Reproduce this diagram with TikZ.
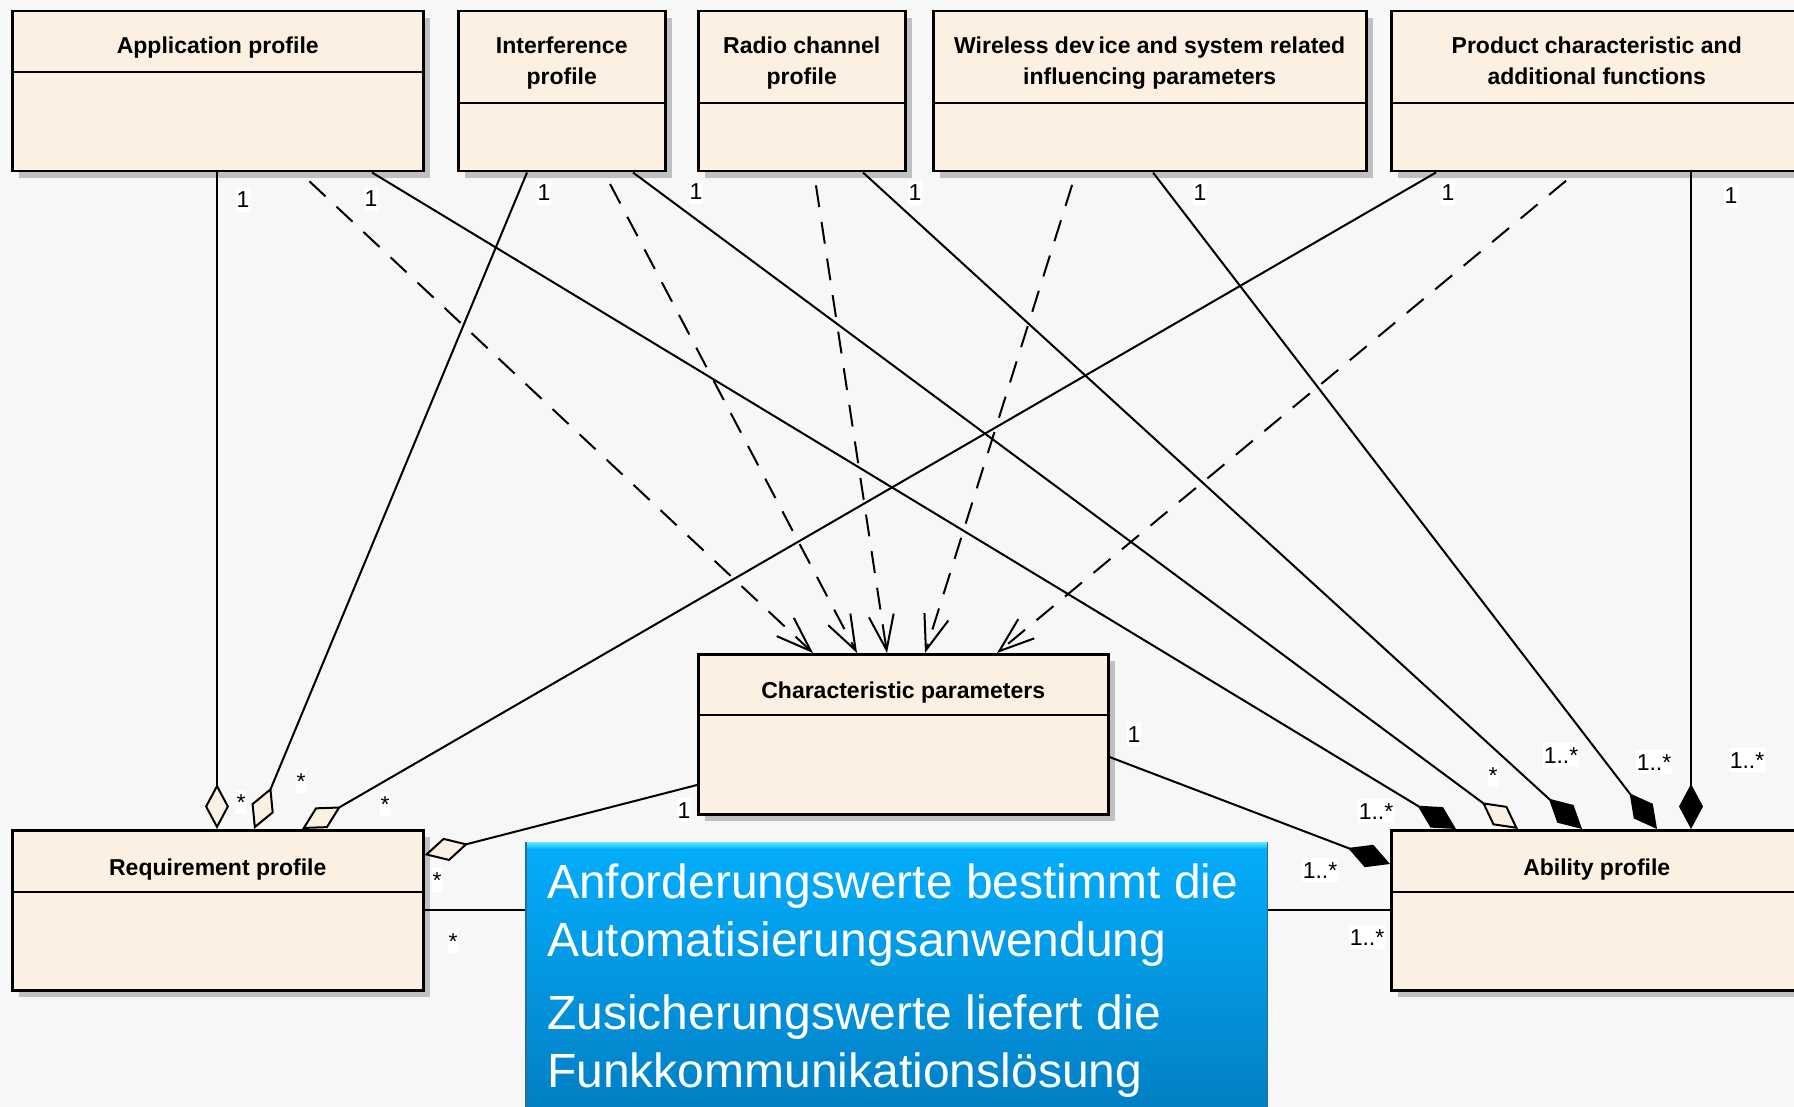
\documentclass[tikz,border=0pt]{standalone}
\usepackage{fontspec}
\setmainfont{Liberation Sans}
\usetikzlibrary{arrows.meta,shadows}

\definecolor{bg}{HTML}{F7F7F7}
\definecolor{classfill}{HTML}{FBF0E2}
\definecolor{shade}{HTML}{C0C0C0}
\definecolor{notetop}{HTML}{04AEFC}
\definecolor{notebot}{HTML}{027BBF}
\definecolor{bevel}{HTML}{62E8FF}
\definecolor{noteedge}{HTML}{2A6E96}

\tikzset{
  cls/.style={draw=black, line width=2.5pt, fill=classfill, inner sep=0pt,
    anchor=north west, minimum height=160pt,
    drop shadow={shadow xshift=7pt, shadow yshift=-7pt, fill=shade, opacity=1}},
  ttl/.style={anchor=north, align=center, inner sep=0pt,
    font=\fontsize{23}{31}\selectfont\bfseries},
  mult/.style={fill=white, inner xsep=1pt, inner ysep=0pt,
    text height=20pt, text depth=4pt, font=\fontsize{23}{28}\selectfont},
  assoc/.style={line width=2pt},
  dep/.style={line width=2pt, dash pattern=on 22pt off 15pt, dash phase=24pt,
    -{Straight Barb[length=35pt,width=25pt]}},
  agg/.style={assoc, -{Diamond[length=45pt,width=24pt,fill=classfill]}},
  comp/.style={assoc, -{Diamond[length=45pt,width=24pt]}},
  sep/.style={line width=2.5pt}
}

\newcommand{\tstrut}{\rule{0pt}{17pt}}

\begin{document}
\begin{tikzpicture}[x=1pt,y=-1pt]
  \useasboundingbox (0,0) rectangle (1794,1107);
  \clip (0,0) rectangle (1794,1107);
  \fill[bg] (0,0) rectangle (1794,1107);

  % classes
  \node[cls, minimum width=411pt] (app)   at (11,10)  {};
  \node[cls, minimum width=207pt] (intf)  at (457,10) {};
  \node[cls, minimum width=207pt] (radio) at (697,10) {};
  \node[cls, minimum width=433pt] (wless) at (932,10) {};
  \node[cls, minimum width=411pt] (prod)  at (1390,10) {};
  \node[cls, minimum width=410pt] (chr)   at (697,653) {};
  \node[cls, minimum width=411pt] (req)   at (11,829) {};
  \node[cls, minimum width=411pt] (abl)   at (1390,829) {};

  % compartment separators
  \draw[sep] ([yshift=-62pt]app.north west) -- ([yshift=-62pt]app.north east);
  \draw[sep] ([yshift=-93pt]intf.north west) -- ([yshift=-93pt]intf.north east);
  \draw[sep] ([yshift=-93pt]radio.north west) -- ([yshift=-93pt]radio.north east);
  \draw[sep] ([yshift=-93pt]wless.north west) -- ([yshift=-93pt]wless.north east);
  \draw[sep] ([yshift=-93pt]prod.north west) -- ([yshift=-93pt]prod.north east);
  \draw[sep] ([yshift=-62pt]chr.north west) -- ([yshift=-62pt]chr.north east);
  \draw[sep] ([yshift=-63pt]req.north west) -- ([yshift=-63pt]req.north east);
  \draw[sep] ([yshift=-63pt]abl.north west) -- ([yshift=-63pt]abl.north east);

  % class names
  \node[ttl] (appT)   at ([yshift=-26pt]app.north)   {\tstrut Application profile};
  \node[ttl] (intfT)  at ([yshift=-26pt]intf.north)  {\tstrut Interference\\profile};
  \node[ttl] (radioT) at ([yshift=-26pt]radio.north) {\tstrut Radio channel\\profile};
  \node[ttl] (wlessT) at ([yshift=-26pt]wless.north) {\tstrut Wireless dev\kern4pt ice and system related\\influencing parameters};
  \node[ttl] (prodT)  at ([yshift=-26pt]prod.north)  {\tstrut Product characteristic and\\additional functions};
  \node[ttl] (chrT)   at ([yshift=-28pt]chr.north)   {\tstrut Characteristic parameters};
  \node[ttl] (reqT)   at ([yshift=-29pt]req.north)   {\tstrut Requirement profile};
  \node[ttl] (ablT)   at ([yshift=-29pt]abl.north)   {\tstrut Ability profile};

  % relations from the application profile
  \draw[agg]  ([xshift=206pt]app.south west) -- ([xshift=206pt]req.north west);
  \draw[dep]  ([xshift=289pt]app.south west) -- ([xshift=116pt]chr.north west);
  \draw[comp] ([xshift=361pt]app.south west) -- ([xshift=66pt]abl.north west);

  % relations from the interference profile
  \draw[agg]  ([xshift=70pt]intf.south west)  -- ([xshift=243pt]req.north west);
  \draw[dep]  ([xshift=147pt]intf.south west) -- ([xshift=160pt]chr.north west);
  \draw[agg]  ([xshift=176pt]intf.south west) -- ([xshift=128pt]abl.north west);

  % relations from the radio channel profile
  \draw[dep]  ([xshift=117pt]radio.south west) -- ([xshift=190pt]chr.north west);
  \draw[comp] ([xshift=166pt]radio.south west) -- ([xshift=192pt]abl.north west);

  % relations from the wireless device parameters
  \draw[dep]  ([xshift=144pt]wless.south west) -- ([xshift=228pt]chr.north west);
  \draw[comp] ([xshift=221pt]wless.south west) -- ([xshift=267pt]abl.north west);

  % relations from the product characteristics
  \draw[agg]  ([xshift=46pt]prod.south west)  -- ([xshift=291pt]req.north west);
  \draw[dep]  ([xshift=186pt]prod.south west) -- ([xshift=300pt]chr.north west);
  \draw[comp] ([xshift=301pt]prod.south west) -- ([xshift=301pt]abl.north west);

  % relations from the characteristic parameters
  \draw[agg]  ([yshift=-132pt]chr.north west) -- ([yshift=-26pt]req.north east);
  \draw[comp] ([yshift=-104pt]chr.north east) -- ([yshift=-35pt]abl.north west);

  % requirement -- ability
  \draw[assoc] ([yshift=-81pt]req.north east) -- ([yshift=-81pt]abl.north west);

  % explanatory note
  \node[anchor=north west, inner sep=0pt, minimum width=741pt, minimum height=290pt,
        top color=notetop, bottom color=notebot] (note) at (526,842) {};
  \fill[top color=bevel, bottom color=notetop]
    (note.north west) rectangle ([yshift=-7pt]note.north east);
  \draw[noteedge, line width=1.5pt] (note.south west) -- (note.north west);
  \draw[noteedge, line width=1.5pt] (note.north east) -- (note.south east);
  \node[anchor=north west, inner sep=0pt, align=left, text=white,
        font=\fontsize{48}{58}\selectfont] (noteT) at (547,862)
    {\rule{0pt}{36pt}Anforderungswerte bestimmt die\\
     Automatisierungsanwendung\\[15pt]
     Zusicherungswerte liefert die\\
     Funkkommunikationslösung};

  % multiplicities
  \node[mult] (m1)  at (243,200) {1};
  \node[mult] (m2)  at (371,199) {1};
  \node[mult] (m3)  at (544,193) {1};
  \node[mult] (m4)  at (696,192) {1};
  \node[mult] (m5)  at (915,193) {1};
  \node[mult] (m6)  at (1200,193) {1};
  \node[mult] (m7)  at (1448,193) {1};
  \node[mult] (m8)  at (1731,196) {1};
  \node[mult] (m9)  at (241,802) {*};
  \node[mult] (m10) at (301,781) {*};
  \node[mult] (m11) at (385,804) {*};
  \node[mult] (m12) at (437,880) {*};
  \node[mult] (m13) at (453,941) {*};
  \node[mult] (m14) at (684,810) {1};
  \node[mult] (m15) at (1134,734) {1};
  \node[mult] (m16) at (1376,811) {1..*};
  \node[mult] (m17) at (1493,775) {*};
  \node[mult] (m18) at (1561,755) {1..*};
  \node[mult] (m19) at (1654,762) {1..*};
  \node[mult] (m20) at (1747,760) {1..*};
  \node[mult] (m21) at (1320,870) {1..*};
  \node[mult] (m22) at (1367,937) {1..*};
\end{tikzpicture}
\end{document}
